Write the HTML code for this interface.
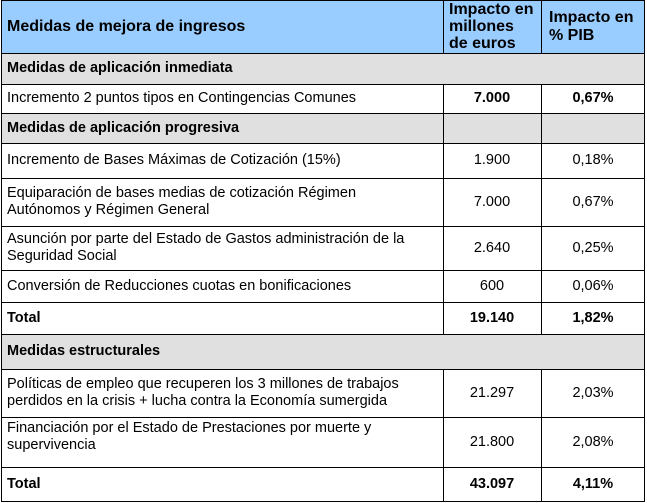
<!DOCTYPE html>
<html><head><style>
body{margin:0;width:647px;height:503px;background:#fff;font-family:"Liberation Sans",Arial,sans-serif;color:#000;position:relative;overflow:hidden}
.r{position:absolute;left:1px;width:644px;border-top:1.5px solid #000;box-sizing:border-box}
.c{position:absolute;display:flex;align-items:center;box-sizing:border-box;font-size:14.5px;line-height:17px;white-space:nowrap}
.v{position:absolute;width:0;border-left:1.5px solid #000}
.h{font-weight:bold;font-size:16px}
</style></head><body>
<div style="position:absolute;left:1px;top:0;width:644px;height:53px;background:#99ccff"></div>
<div style="position:absolute;left:1px;top:53px;width:644px;height:31px;background:#e0e0e0"></div>
<div style="position:absolute;left:1px;top:113px;width:644px;height:30px;background:#e0e0e0"></div>
<div style="position:absolute;left:1px;top:334px;width:644px;height:35px;background:#e0e0e0"></div>
<div style="position:absolute;left:1px;top:0;width:644px;height:502px;border:1.5px solid #000;box-sizing:border-box"></div>
<div class="r" style="top:53px"></div><div class="r" style="top:84px"></div><div class="r" style="top:113px"></div>
<div class="r" style="top:143px"></div><div class="r" style="top:178px"></div><div class="r" style="top:226px"></div>
<div class="r" style="top:270px"></div><div class="r" style="top:302px"></div><div class="r" style="top:334px"></div>
<div class="r" style="top:369px"></div><div class="r" style="top:417px"></div><div class="r" style="top:467px"></div>
<div class="v" style="left:443px;top:0;height:53px"></div><div class="v" style="left:541px;top:0;height:53px"></div>
<div class="v" style="left:443px;top:84px;height:250px"></div><div class="v" style="left:541px;top:84px;height:250px"></div>
<div class="v" style="left:443px;top:369px;height:133px"></div><div class="v" style="left:541px;top:369px;height:133px"></div>
<div class="c h" style="left:7px;top:0;height:53px">Medidas de mejora de ingresos</div>
<div class="c h" style="left:449px;top:0;height:53px;line-height:17px">Impacto en<br>millones<br>de euros</div>
<div class="c h" style="left:549px;top:0;height:53px;line-height:18px">Impacto en<br>% PIB</div>
<div class="c" style="left:7px;top:53px;height:31px;font-weight:bold">Medidas de aplicación inmediata</div>
<div class="c" style="left:7px;top:84px;height:29px">Incremento 2 puntos tipos en Contingencias Comunes</div>
<div class="c" style="left:443px;top:84px;height:29px;width:98px;justify-content:center;font-weight:bold">7.000</div>
<div class="c" style="left:541px;top:84px;height:29px;width:104px;justify-content:center;font-weight:bold">0,67%</div>
<div class="c" style="left:7px;top:113px;height:30px;font-weight:bold">Medidas de aplicación progresiva</div>
<div class="c" style="left:7px;top:143px;height:35px">Incremento de Bases Máximas de Cotización (15%)</div>
<div class="c" style="left:443px;top:143px;height:35px;width:98px;justify-content:center">1.900</div>
<div class="c" style="left:541px;top:143px;height:35px;width:104px;justify-content:center">0,18%</div>
<div class="c" style="left:7px;top:178px;height:48px">Equiparación de bases medias de cotización Régimen<br>Autónomos y Régimen General</div>
<div class="c" style="left:443px;top:178px;height:48px;width:98px;justify-content:center">7.000</div>
<div class="c" style="left:541px;top:178px;height:48px;width:104px;justify-content:center">0,67%</div>
<div class="c" style="left:7px;top:226px;height:44px">Asunción por parte del Estado de Gastos administración de la<br>Seguridad Social</div>
<div class="c" style="left:443px;top:226px;height:44px;width:98px;justify-content:center">2.640</div>
<div class="c" style="left:541px;top:226px;height:44px;width:104px;justify-content:center">0,25%</div>
<div class="c" style="left:7px;top:270px;height:32px">Conversión de Reducciones cuotas en bonificaciones</div>
<div class="c" style="left:443px;top:270px;height:32px;width:98px;justify-content:center">600</div>
<div class="c" style="left:541px;top:270px;height:32px;width:104px;justify-content:center">0,06%</div>
<div class="c" style="left:7px;top:302px;height:32px;font-weight:bold">Total</div>
<div class="c" style="left:443px;top:302px;height:32px;width:98px;justify-content:center;font-weight:bold">19.140</div>
<div class="c" style="left:541px;top:302px;height:32px;width:104px;justify-content:center;font-weight:bold">1,82%</div>
<div class="c" style="left:7px;top:334px;height:35px;font-weight:bold">Medidas estructurales</div>
<div class="c" style="left:7px;top:369px;height:48px">Políticas de empleo que recuperen los 3 millones de trabajos<br>perdidos en la crisis + lucha contra la Economía sumergida</div>
<div class="c" style="left:443px;top:369px;height:48px;width:98px;justify-content:center">21.297</div>
<div class="c" style="left:541px;top:369px;height:48px;width:104px;justify-content:center">2,03%</div>
<div class="c" style="left:7px;top:417px;height:38px;top:418px">Financiación por el Estado de Prestaciones por muerte y<br>supervivencia</div>
<div class="c" style="left:443px;top:417px;height:50px;width:98px;justify-content:center">21.800</div>
<div class="c" style="left:541px;top:417px;height:50px;width:104px;justify-content:center">2,08%</div>
<div class="c" style="left:7px;top:467px;height:35px;font-weight:bold">Total</div>
<div class="c" style="left:443px;top:467px;height:35px;width:98px;justify-content:center;font-weight:bold">43.097</div>
<div class="c" style="left:541px;top:467px;height:35px;width:104px;justify-content:center;font-weight:bold">4,11%</div>
</body></html>
